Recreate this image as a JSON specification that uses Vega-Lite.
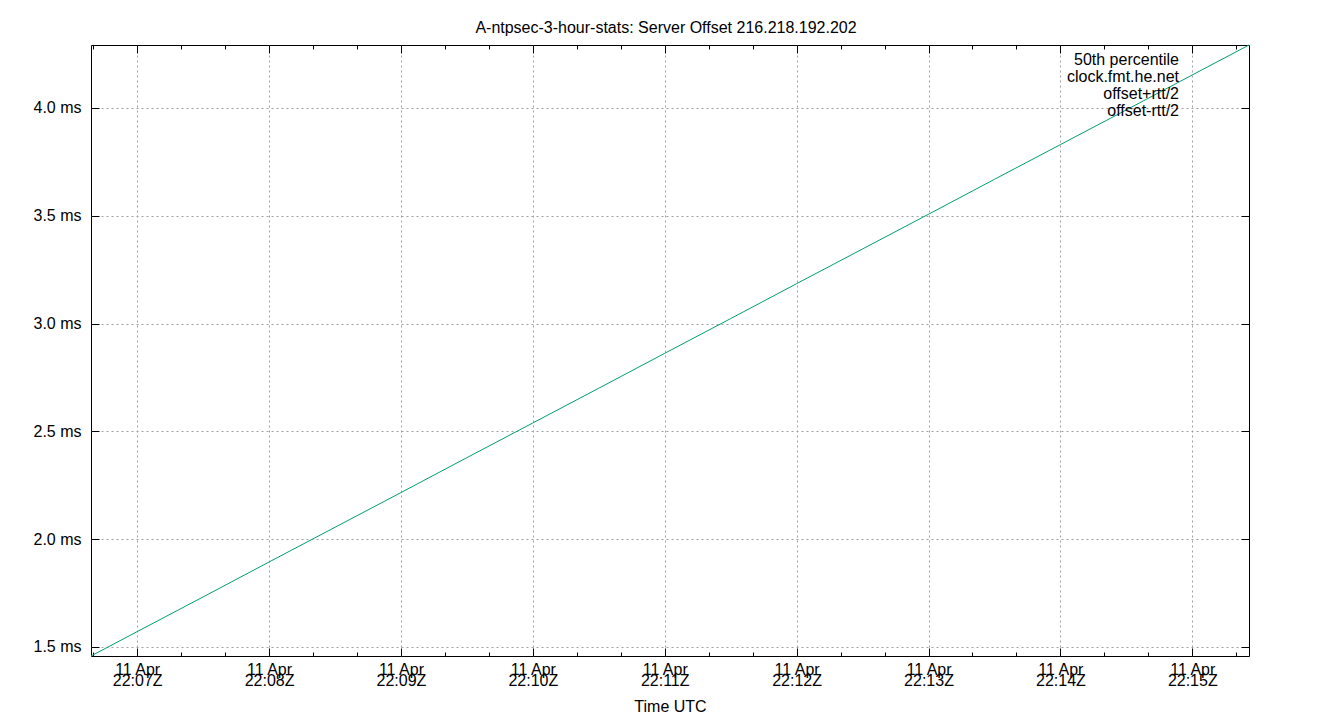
{
  "$schema": "https://vega.github.io/schema/vega-lite/v6.json",
  "autosize": {"type": "none"},
  "padding": {"left": 91, "top": 45, "right": 91, "bottom": 64},
  "width": 1158,
  "height": 611,
  "background": "white",
  "title": {
    "text": "A-ntpsec-3-hour-stats: Server Offset 216.218.192.202",
    "fontSize": 16,
    "fontWeight": "normal",
    "color": "black",
    "anchor": "middle",
    "offset": 7,
    "dx": -4
  },
  "data": {
    "values": [
      {"time": "2024-04-11T22:06:39.000Z", "offset": 1.458, "series": "clock.fmt.he.net"},
      {"time": "2024-04-11T22:07:00.000Z", "offset": 1.571, "series": "clock.fmt.he.net"},
      {"time": "2024-04-11T22:07:30.000Z", "offset": 1.732, "series": "clock.fmt.he.net"},
      {"time": "2024-04-11T22:08:00.000Z", "offset": 1.894, "series": "clock.fmt.he.net"},
      {"time": "2024-04-11T22:08:30.000Z", "offset": 2.055, "series": "clock.fmt.he.net"},
      {"time": "2024-04-11T22:09:00.000Z", "offset": 2.216, "series": "clock.fmt.he.net"},
      {"time": "2024-04-11T22:09:30.000Z", "offset": 2.378, "series": "clock.fmt.he.net"},
      {"time": "2024-04-11T22:10:00.000Z", "offset": 2.539, "series": "clock.fmt.he.net"},
      {"time": "2024-04-11T22:10:30.000Z", "offset": 2.700, "series": "clock.fmt.he.net"},
      {"time": "2024-04-11T22:11:00.000Z", "offset": 2.862, "series": "clock.fmt.he.net"},
      {"time": "2024-04-11T22:11:30.000Z", "offset": 3.023, "series": "clock.fmt.he.net"},
      {"time": "2024-04-11T22:12:00.000Z", "offset": 3.185, "series": "clock.fmt.he.net"},
      {"time": "2024-04-11T22:12:30.000Z", "offset": 3.346, "series": "clock.fmt.he.net"},
      {"time": "2024-04-11T22:13:00.000Z", "offset": 3.507, "series": "clock.fmt.he.net"},
      {"time": "2024-04-11T22:13:30.000Z", "offset": 3.669, "series": "clock.fmt.he.net"},
      {"time": "2024-04-11T22:14:00.000Z", "offset": 3.830, "series": "clock.fmt.he.net"},
      {"time": "2024-04-11T22:14:30.000Z", "offset": 3.991, "series": "clock.fmt.he.net"},
      {"time": "2024-04-11T22:15:00.000Z", "offset": 4.153, "series": "clock.fmt.he.net"},
      {"time": "2024-04-11T22:15:25.800Z", "offset": 4.292, "series": "clock.fmt.he.net"}
    ]
  },
  "layer": [
    {
      "mark": {"type": "line", "strokeWidth": 1},
      "encoding": {
        "x": {
          "field": "time",
          "type": "temporal",
          "scale": {"type": "utc", "nice": false, "domain": [1712873199000, 1712873725800]},
          "axis": {
            "orient": "bottom",
            "values": [1712873220000, 1712873280000, 1712873340000, 1712873400000, 1712873460000, 1712873520000, 1712873580000, 1712873640000, 1712873700000],
            "format": "%d %b",
            "ticks": false,
            "domain": false,
            "grid": true,
            "gridColor": "#a0a0a0",
            "gridDash": [2, 3],
            "labelFontSize": 16,
            "labelBaseline": "top",
            "labelPadding": 5,
            "labelOverlap": false,
            "labelFlush": false,
            "title": "Time UTC",
            "titleFontSize": 16,
            "titleFontWeight": "normal",
            "titlePadding": 21
          }
        },
        "y": {
          "field": "offset",
          "type": "quantitative",
          "scale": {"domain": [1.458, 4.292], "nice": false, "zero": false},
          "axis": {
            "orient": "left",
            "values": [1.5, 2.0, 2.5, 3.0, 3.5, 4.0],
            "format": ".1f",
            "labelExpr": "datum.label + ' ms'",
            "ticks": false,
            "domain": false,
            "grid": true,
            "gridColor": "#a0a0a0",
            "gridDash": [2, 3],
            "labelFontSize": 16,
            "labelPadding": 10,
            "title": null
          }
        },
        "color": {
          "field": "series",
          "type": "nominal",
          "scale": {
            "domain": ["50th percentile", "clock.fmt.he.net", "offset+rtt/2", "offset-rtt/2"],
            "range": ["#9400d3", "#009e73", "#56b4e9", "#e69f00"]
          },
          "legend": {
            "orient": "none",
            "legendX": 1097,
            "legendY": 7,
            "title": null,
            "padding": 0,
            "labelAlign": "right",
            "labelOffset": -54,
            "labelFontSize": 16,
            "labelColor": "black",
            "symbolType": "stroke",
            "symbolSize": 1936,
            "symbolStrokeWidth": 1,
            "clipHeight": 15.2,
            "rowPadding": 0
          }
        }
      }
    },
    {
      "mark": {"type": "line", "strokeOpacity": 0},
      "encoding": {
        "x": {
          "field": "time",
          "type": "temporal",
          "axis": {
            "orient": "bottom",
            "values": [1712873220000, 1712873280000, 1712873340000, 1712873400000, 1712873460000, 1712873520000, 1712873580000, 1712873640000, 1712873700000],
            "format": "%H:%MZ",
            "ticks": false,
            "domain": false,
            "grid": false,
            "labelFontSize": 16,
            "labelBaseline": "top",
            "labelPadding": 16,
            "labelOverlap": false,
            "labelFlush": false,
            "title": null
          }
        },
        "y": {
          "field": "offset",
          "type": "quantitative",
          "axis": {
            "orient": "left",
            "values": [1.5, 2.0, 2.5, 3.0, 3.5, 4.0],
            "labels": false,
            "domain": false,
            "grid": false,
            "tickColor": "black",
            "tickSize": 8,
            "offset": -8,
            "title": null
          }
        }
      }
    },
    {
      "mark": {"type": "line", "strokeOpacity": 0},
      "encoding": {
        "x": {
          "field": "time",
          "type": "temporal",
          "axis": {
            "orient": "top",
            "values": [1712873220000, 1712873280000, 1712873340000, 1712873400000, 1712873460000, 1712873520000, 1712873580000, 1712873640000, 1712873700000],
            "labels": false,
            "domain": false,
            "grid": false,
            "tickColor": "black",
            "tickSize": 8,
            "offset": -8,
            "title": null
          }
        },
        "y": {
          "field": "offset",
          "type": "quantitative",
          "axis": {
            "orient": "right",
            "values": [1.5, 2.0, 2.5, 3.0, 3.5, 4.0],
            "labels": false,
            "domain": false,
            "grid": false,
            "tickColor": "black",
            "tickSize": 8,
            "offset": -8,
            "title": null
          }
        }
      }
    },
    {
      "mark": {"type": "line", "strokeOpacity": 0},
      "encoding": {
        "x": {
          "field": "time",
          "type": "temporal",
          "axis": {
            "orient": "bottom",
            "values": [1712873220000, 1712873280000, 1712873340000, 1712873400000, 1712873460000, 1712873520000, 1712873580000, 1712873640000, 1712873700000],
            "labels": false,
            "domain": false,
            "grid": false,
            "tickColor": "black",
            "tickSize": 8,
            "offset": -8,
            "title": null
          }
        },
        "y": {"field": "offset", "type": "quantitative", "axis": null}
      }
    },
    {
      "mark": {"type": "line", "strokeOpacity": 0},
      "encoding": {
        "x": {
          "field": "time",
          "type": "temporal",
          "axis": {
            "orient": "top",
            "values": [1712873200000, 1712873220000, 1712873240000, 1712873260000, 1712873280000, 1712873300000, 1712873320000, 1712873340000, 1712873360000, 1712873380000, 1712873400000, 1712873420000, 1712873440000, 1712873460000, 1712873480000, 1712873500000, 1712873520000, 1712873540000, 1712873560000, 1712873580000, 1712873600000, 1712873620000, 1712873640000, 1712873660000, 1712873680000, 1712873700000, 1712873720000],
            "labels": false,
            "domain": false,
            "grid": false,
            "tickColor": "black",
            "tickSize": 4,
            "offset": -4,
            "title": null
          }
        },
        "y": {"field": "offset", "type": "quantitative", "axis": null}
      }
    },
    {
      "mark": {"type": "line", "strokeOpacity": 0},
      "encoding": {
        "x": {
          "field": "time",
          "type": "temporal",
          "axis": {
            "orient": "bottom",
            "values": [1712873200000, 1712873220000, 1712873240000, 1712873260000, 1712873280000, 1712873300000, 1712873320000, 1712873340000, 1712873360000, 1712873380000, 1712873400000, 1712873420000, 1712873440000, 1712873460000, 1712873480000, 1712873500000, 1712873520000, 1712873540000, 1712873560000, 1712873580000, 1712873600000, 1712873620000, 1712873640000, 1712873660000, 1712873680000, 1712873700000, 1712873720000],
            "labels": false,
            "domain": false,
            "grid": false,
            "tickColor": "black",
            "tickSize": 4,
            "offset": -4,
            "title": null
          }
        },
        "y": {"field": "offset", "type": "quantitative", "axis": null}
      }
    }
  ],
  "resolve": {"axis": {"x": "independent", "y": "independent"}},
  "config": {
    "font": "Liberation Sans",
    "view": {"stroke": "black", "strokeWidth": 1},
    "axis": {"labelColor": "black", "titleColor": "black"}
  }
}
